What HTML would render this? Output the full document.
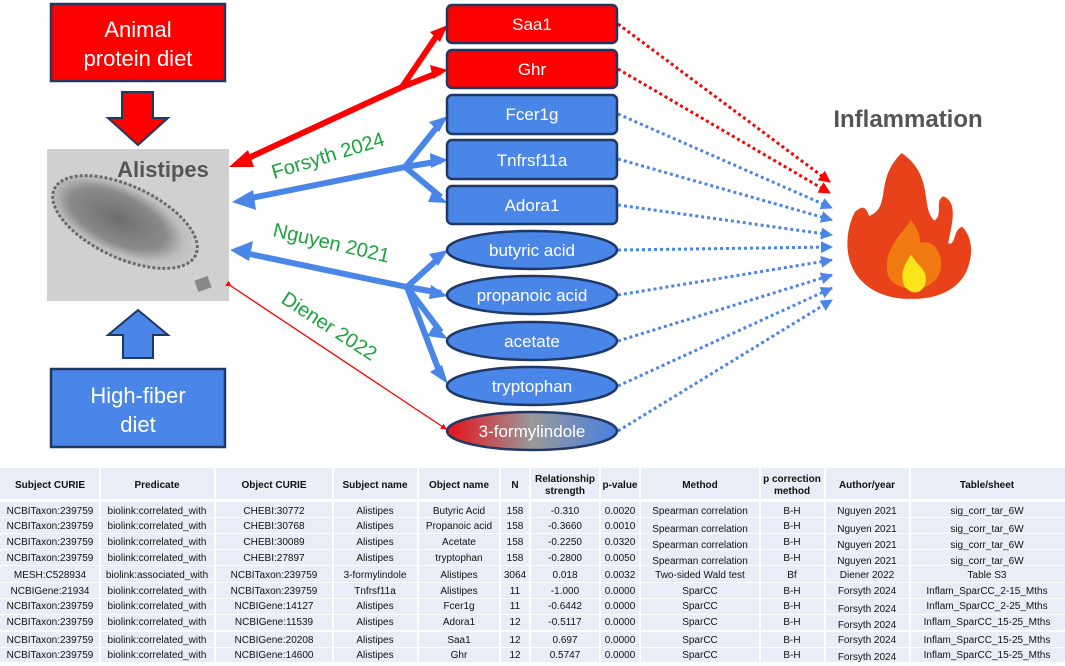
<!DOCTYPE html>
<html><head><meta charset="utf-8"><style>
html,body{margin:0;padding:0;background:#fff;width:1065px;height:666px;overflow:hidden}
svg text{font-family:"Liberation Sans",Arial,sans-serif}
</style></head><body>
<svg width="1065" height="666" viewBox="0 0 1065 666" xmlns="http://www.w3.org/2000/svg">
<defs>
<radialGradient id="bac" cx="0.45" cy="0.5" r="0.6">
<stop offset="0" stop-color="#6e6e6e"/><stop offset="0.55" stop-color="#8a8a8a"/><stop offset="0.75" stop-color="#bdbdbd"/><stop offset="1" stop-color="#cfcfcf"/></radialGradient>
<linearGradient id="fg" x1="0" x2="1"><stop offset="0" stop-color="#e8101a"/><stop offset="0.5" stop-color="#999"/><stop offset="1" stop-color="#4a7fe0"/></linearGradient>
<marker id="rh" markerWidth="6" markerHeight="6" refX="5" refY="3" orient="auto" markerUnits="userSpaceOnUse" viewBox="0 0 6 6"><path d="M0,0 L6,3 L0,6z" fill="#f00"/></marker>
<marker id="bh" markerWidth="12" markerHeight="12" refX="11" refY="6" orient="auto" markerUnits="userSpaceOnUse" viewBox="0 0 12 12"><path d="M0,0 L12,6 L0,12z" fill="#4a86e8"/></marker>
<marker id="rdh" markerWidth="12" markerHeight="12" refX="11" refY="6" orient="auto" markerUnits="userSpaceOnUse" viewBox="0 0 12 12"><path d="M0,0 L12,6 L0,12z" fill="#f00"/></marker>
</defs>

<!-- left boxes -->
<rect x="51" y="4" width="174" height="77" fill="#f00" stroke="#1f3864" stroke-width="2.5"/>
<text x="138" y="37" font-size="22" fill="#fff" text-anchor="middle">Animal</text>
<text x="138" y="66" font-size="22" fill="#fff" text-anchor="middle">protein diet</text>
<path d="M122,92 L153,92 L153,118 L168,118 L138,145 L108,118 L122,118z" fill="#f00" stroke="#1f3864" stroke-width="2"/>
<rect x="47" y="149" width="182" height="152" fill="#d0d0d0"/>
<ellipse cx="125" cy="222" rx="78" ry="36" transform="rotate(25 125 222)" fill="url(#bac)" stroke="#6a6a6a" stroke-width="3" stroke-dasharray="3 2"/>
<rect x="196" y="278" width="14" height="12" fill="#888" transform="rotate(-20 203 284)"/>
<text x="163" y="177" font-size="22" font-weight="bold" fill="#555" text-anchor="middle">Alistipes</text>
<path d="M138,310 L168,335 L153,335 L153,358 L123,358 L123,335 L108,335z" fill="#4a86e8" stroke="#1f3864" stroke-width="2"/>
<rect x="51" y="369" width="174" height="78" fill="#4a86e8" stroke="#1f3864" stroke-width="2.5"/>
<text x="138" y="403" font-size="22" fill="#fff" text-anchor="middle">High-fiber</text>
<text x="138" y="432" font-size="22" fill="#fff" text-anchor="middle">diet</text>

<!-- red thick connectors -->
<g stroke="#f00" stroke-width="6" fill="none">
<line x1="244" y1="160" x2="402" y2="87"/>
<line x1="402" y1="87" x2="440" y2="31"/>
<line x1="402" y1="87" x2="440" y2="72"/>
</g>
<path d="M229,167 L248,150 L254,167z" fill="#f00"/>
<path d="M448,25 L430,32 L440,42z" fill="#f00"/>
<path d="M448,70 L430,65 L433,79z" fill="#f00"/>
<!-- blue Forsyth -->
<g stroke="#4a86e8" stroke-width="6" fill="none">
<line x1="246" y1="199" x2="405" y2="167"/>
<line x1="405" y1="167" x2="441" y2="122"/>
<line x1="405" y1="167" x2="441" y2="161"/>
<line x1="405" y1="167" x2="441" y2="197"/>
</g>
<path d="M232,202 L253,190 L256,210z" fill="#4a86e8"/>
<path d="M448,116 L429,122 L439,132z" fill="#4a86e8"/>
<path d="M448,160 L430,153 L431,168z" fill="#4a86e8"/>
<path d="M448,203 L433,190 L428,202z" fill="#4a86e8"/>
<!-- blue Nguyen -->
<g stroke="#4a86e8" stroke-width="6" fill="none">
<line x1="245" y1="253" x2="407" y2="287"/>
<line x1="407" y1="287" x2="441" y2="256"/>
<line x1="407" y1="287" x2="441" y2="293"/>
<line x1="407" y1="287" x2="441" y2="332"/>
<line x1="407" y1="287" x2="441" y2="376"/>
</g>
<path d="M230,250 L253,241 L249,261z" fill="#4a86e8"/>
<path d="M448,250 L429,254 L438,266z" fill="#4a86e8"/>
<path d="M448,296 L431,285 L429,299z" fill="#4a86e8"/>
<path d="M448,339 L435,324 L427,336z" fill="#4a86e8"/>
<path d="M448,384 L442,365 L430,372z" fill="#4a86e8"/>
<!-- Diener thin -->
<line x1="231" y1="286" x2="446" y2="429" stroke="#f00" stroke-width="1.3" marker-start="url(#rh)" marker-end="url(#rh)"/>

<text font-size="20" fill="#1aa33a" transform="translate(274 179) rotate(-17)">Forsyth 2024</text>
<text font-size="20" fill="#1aa33a" transform="translate(272 236) rotate(13)">Nguyen 2021</text>
<text font-size="20" fill="#1aa33a" transform="translate(280 302) rotate(33)">Diener 2022</text>

<!-- dotted to fire -->
<g stroke-width="3" stroke-dasharray="3 3" fill="none">
<line x1="618" y1="24" x2="830" y2="182" stroke="#f00" marker-end="url(#rdh)"/>
<line x1="618" y1="69" x2="830" y2="193" stroke="#f00" marker-end="url(#rdh)"/>
<line x1="618" y1="114" x2="832" y2="208" stroke="#4a86e8" marker-end="url(#bh)"/>
<line x1="618" y1="159" x2="832" y2="220" stroke="#4a86e8" marker-end="url(#bh)"/>
<line x1="618" y1="205" x2="832" y2="235" stroke="#4a86e8" marker-end="url(#bh)"/>
<line x1="618" y1="250" x2="832" y2="247" stroke="#4a86e8" marker-end="url(#bh)"/>
<line x1="618" y1="295" x2="832" y2="260" stroke="#4a86e8" marker-end="url(#bh)"/>
<line x1="618" y1="341" x2="832" y2="275" stroke="#4a86e8" marker-end="url(#bh)"/>
<line x1="618" y1="386" x2="832" y2="288" stroke="#4a86e8" marker-end="url(#bh)"/>
<line x1="618" y1="431" x2="832" y2="300" stroke="#4a86e8" marker-end="url(#bh)"/>
</g>

<!-- right nodes -->
<g stroke="#1f3864" stroke-width="2.5">
<rect x="447" y="5" width="170" height="38" rx="5" fill="#f00"/>
<rect x="447" y="50" width="170" height="38" rx="5" fill="#f00"/>
<rect x="447" y="95" width="170" height="39" rx="5" fill="#4a86e8"/>
<rect x="447" y="140" width="170" height="39" rx="5" fill="#4a86e8"/>
<rect x="447" y="186" width="170" height="38" rx="5" fill="#4a86e8"/>
<ellipse cx="532" cy="250" rx="85" ry="19" fill="#4a86e8"/>
<ellipse cx="532" cy="295" rx="85" ry="19" fill="#4a86e8"/>
<ellipse cx="532" cy="341" rx="85" ry="19" fill="#4a86e8"/>
<ellipse cx="532" cy="386" rx="85" ry="19" fill="#4a86e8"/>
<ellipse cx="532" cy="431" rx="85" ry="19" fill="url(#fg)"/>
</g>
<g font-size="17" fill="#fff" text-anchor="middle">
<text x="532" y="30">Saa1</text>
<text x="532" y="75">Ghr</text>
<text x="532" y="120">Fcer1g</text>
<text x="532" y="166">Tnfrsf11a</text>
<text x="532" y="211">Adora1</text>
<text x="532" y="256">butyric acid</text>
<text x="532" y="301">propanoic acid</text>
<text x="532" y="347">acetate</text>
<text x="532" y="392">tryptophan</text>
<text x="532" y="437">3-formylindole</text>
</g>

<text x="908" y="127" font-size="24" font-weight="bold" fill="#555" text-anchor="middle">Inflammation</text>
<!-- fire -->
<g transform="translate(844,153) scale(0.93,0.9) translate(-838,-170)">
<path d="M900,170 C870,200 890,230 865,240 C860,225 855,232 850,235 C842,250 838,275 846,295 C858,325 890,333 910,332 C940,333 965,320 972,295 C978,275 973,260 965,252 C955,255 958,275 950,270 C955,245 960,225 945,218 C935,222 945,240 935,245 C920,230 935,195 900,170z" fill="#e8421a"/>
<path d="M910,245 C895,265 880,280 885,305 C892,325 930,328 940,305 C948,285 935,265 920,270 C920,260 915,250 910,245z" fill="#f07a10"/>
<path d="M910,283 C902,295 898,305 903,318 C912,330 925,325 926,312 C927,300 918,295 915,290z" fill="#fbe51a"/>
</g>

<!-- table -->
<rect x="0" y="467" width="1065" height="199" fill="#fff"/>
<g fill="#e9edf8">
<rect x="0" y="468" width="1065" height="31"/>
<rect x="0" y="502" width="1065" height="15"/>
<rect x="0" y="518" width="1065" height="15"/>
<rect x="0" y="534" width="1065" height="15"/>
<rect x="0" y="550" width="1065" height="15"/>
<rect x="0" y="566" width="1065" height="16"/>
<rect x="0" y="583" width="1065" height="15"/>
<rect x="0" y="599" width="1065" height="15"/>
<rect x="0" y="615" width="1065" height="15"/>
<rect x="0" y="632" width="1065" height="15"/>
<rect x="0" y="648" width="1065" height="14"/>
</g>
<g stroke="#fff" stroke-width="2">
<line x1="100" y1="466" x2="100" y2="664"/><line x1="215" y1="466" x2="215" y2="664"/>
<line x1="333" y1="466" x2="333" y2="664"/><line x1="418" y1="466" x2="418" y2="664"/>
<line x1="500" y1="466" x2="500" y2="664"/><line x1="530" y1="466" x2="530" y2="664"/>
<line x1="600" y1="466" x2="600" y2="664"/><line x1="640" y1="466" x2="640" y2="664"/>
<line x1="760" y1="466" x2="760" y2="664"/><line x1="825" y1="466" x2="825" y2="664"/>
<line x1="910" y1="466" x2="910" y2="664"/>
</g>
<g font-size="10" font-weight="bold" fill="#111" text-anchor="middle">
<text x="50" y="488">Subject CURIE</text><text x="157" y="488">Predicate</text>
<text x="274" y="488">Object CURIE</text><text x="375" y="488">Subject name</text>
<text x="459" y="488">Object name</text><text x="515" y="488">N</text>
<text x="565" y="482">Relationship</text><text x="565" y="494">strength</text>
<text x="620" y="488">p-value</text><text x="700" y="488">Method</text>
<text x="792" y="482">p correction</text><text x="792" y="494">method</text>
<text x="867" y="488">Author/year</text><text x="987" y="488">Table/sheet</text>
</g>
<g font-size="10" fill="#111" text-anchor="middle">
<g transform="translate(0,514)"><text x="50">NCBITaxon:239759</text><text x="157">biolink:correlated_with</text><text x="274">CHEBI:30772</text><text x="375">Alistipes</text><text x="459">Butyric Acid</text><text x="515">158</text><text x="565">-0.310</text><text x="620">0.0020</text><text x="700">Spearman correlation</text><text x="792">B-H</text><text x="867">Nguyen 2021</text><text x="987">sig_corr_tar_6W</text></g>
<g transform="translate(0,529)"><text x="50">NCBITaxon:239759</text><text x="157">biolink:correlated_with</text><text x="274">CHEBI:30768</text><text x="375">Alistipes</text><text x="459">Propanoic acid</text><text x="515">158</text><text x="565">-0.3660</text><text x="620">0.0010</text><text x="700" y="3">Spearman correlation</text><text x="792">B-H</text><text x="867" y="3">Nguyen 2021</text><text x="987" y="3">sig_corr_tar_6W</text></g>
<g transform="translate(0,545)"><text x="50">NCBITaxon:239759</text><text x="157">biolink:correlated_with</text><text x="274">CHEBI:30089</text><text x="375">Alistipes</text><text x="459">Acetate</text><text x="515">158</text><text x="565">-0.2250</text><text x="620">0.0320</text><text x="700" y="3">Spearman correlation</text><text x="792">B-H</text><text x="867" y="3">Nguyen 2021</text><text x="987" y="3">sig_corr_tar_6W</text></g>
<g transform="translate(0,561)"><text x="50">NCBITaxon:239759</text><text x="157">biolink:correlated_with</text><text x="274">CHEBI:27897</text><text x="375">Alistipes</text><text x="459">tryptophan</text><text x="515">158</text><text x="565">-0.2800</text><text x="620">0.0050</text><text x="700" y="3">Spearman correlation</text><text x="792">B-H</text><text x="867" y="3">Nguyen 2021</text><text x="987" y="3">sig_corr_tar_6W</text></g>
<g transform="translate(0,578)"><text x="50">MESH:C528934</text><text x="157">biolink:associated_with</text><text x="274">NCBITaxon:239759</text><text x="375">3-formylindole</text><text x="459">Alistipes</text><text x="515">3064</text><text x="565">0.018</text><text x="620">0.0032</text><text x="700">Two-sided Wald test</text><text x="792">Bf</text><text x="867">Diener 2022</text><text x="987">Table S3</text></g>
<g transform="translate(0,594)"><text x="50">NCBIGene:21934</text><text x="157">biolink:correlated_with</text><text x="274">NCBITaxon:239759</text><text x="375">Tnfrsf11a</text><text x="459">Alistipes</text><text x="515">11</text><text x="565">-1.000</text><text x="620">0.0000</text><text x="700">SparCC</text><text x="792">B-H</text><text x="867">Forsyth 2024</text><text x="987">Inflam_SparCC_2-15_Mths</text></g>
<g transform="translate(0,609)"><text x="50">NCBITaxon:239759</text><text x="157">biolink:correlated_with</text><text x="274">NCBIGene:14127</text><text x="375">Alistipes</text><text x="459">Fcer1g</text><text x="515">11</text><text x="565">-0.6442</text><text x="620">0.0000</text><text x="700">SparCC</text><text x="792">B-H</text><text x="867" y="3">Forsyth 2024</text><text x="987">Inflam_SparCC_2-25_Mths</text></g>
<g transform="translate(0,625)"><text x="50">NCBITaxon:239759</text><text x="157">biolink:correlated_with</text><text x="274">NCBIGene:11539</text><text x="375">Alistipes</text><text x="459">Adora1</text><text x="515">12</text><text x="565">-0.5117</text><text x="620">0.0000</text><text x="700">SparCC</text><text x="792">B-H</text><text x="867" y="3">Forsyth 2024</text><text x="987">Inflam_SparCC_15-25_Mths</text></g>
<g transform="translate(0,643)"><text x="50">NCBITaxon:239759</text><text x="157">biolink:correlated_with</text><text x="274">NCBIGene:20208</text><text x="375">Alistipes</text><text x="459">Saa1</text><text x="515">12</text><text x="565">0.697</text><text x="620">0.0000</text><text x="700">SparCC</text><text x="792">B-H</text><text x="867">Forsyth 2024</text><text x="987">Inflam_SparCC_15-25_Mths</text></g>
<g transform="translate(0,658)"><text x="50">NCBITaxon:239759</text><text x="157">biolink:correlated_with</text><text x="274">NCBIGene:14600</text><text x="375">Alistipes</text><text x="459">Ghr</text><text x="515">12</text><text x="565">0.5747</text><text x="620">0.0000</text><text x="700">SparCC</text><text x="792">B-H</text><text x="867" y="2">Forsyth 2024</text><text x="987">Inflam_SparCC_15-25_Mths</text></g>
</g>
</svg>
</body></html>
